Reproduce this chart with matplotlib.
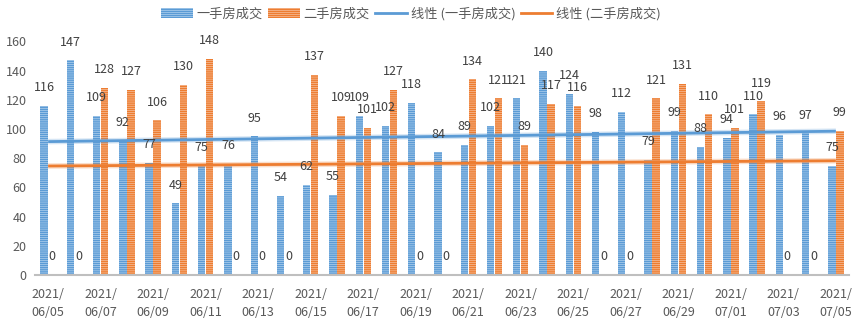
import numpy as np
import matplotlib
matplotlib.use("Agg")
import matplotlib.pyplot as plt
from matplotlib.patches import Patch
from matplotlib.lines import Line2D

plt.rcParams['font.family'] = ['Noto Sans CJK SC', 'DejaVu Sans']
plt.rcParams['hatch.linewidth'] = 1.0

dates = ["2021/06/%02d" % d for d in range(5, 31)] + ["2021/07/%02d" % d for d in range(1, 6)]
new_home = [116, 147, 109, 92, 77, 49, 75, 76, 95, 54,
            62, 55, 109, 102, 118, 84, 89, 102, 121, 140,
            124, 98, 112, 79, 99, 88, 94, 110, 96, 97, 75]
resale = [0, 0, 128, 127, 106, 130, 148, 0, 0, 0,
          137, 109, 101, 127, 0, 0, 134, 121, 89, 117,
          116, 0, 0, 121, 131, 110, 101, 119, 0, 0, 99]
names = ["一手房成交", "二手房成交"]

blue, blue_lt = "#5b9bd5", "#b4d2ee"
orange, orange_lt = "#ed7d31", "#f7c2a0"
txt = "#404040"
axis_txt = "#595959"

x = np.arange(len(dates))
w = 0.28
off = 0.152

fig = plt.figure(figsize=(8.59, 3.22), dpi=100)
ax = fig.add_axes([35 / 859, 47 / 322, 814 / 859, 233.5 / 322])

b1 = ax.bar(x - off, new_home, w, color=blue_lt, edgecolor=blue, linewidth=0, hatch="--------")
b2 = ax.bar(x + off, resale, w, color=orange_lt, edgecolor=orange, linewidth=0, hatch="--------")

for xi, v in zip(x - off, new_home):
    ax.annotate(str(v), (xi, v), xytext=(0, 8.5), textcoords="offset points",
                ha="center", va="bottom", fontsize=9, color=txt)
for xi, v in zip(x + off, resale):
    ax.annotate(str(v), (xi, v), xytext=(0, 8.5), textcoords="offset points",
                ha="center", va="bottom", fontsize=9, color=txt)

# linear trend lines
for vals, c in ((new_home, blue), (resale, orange)):
    k, b = np.polyfit(x, vals, 1)
    ax.plot(x, k * x + b, color=c, lw=4, alpha=0.25, solid_capstyle="butt")
    ax.plot(x, k * x + b, color=c, lw=2, solid_capstyle="butt")

ax.set_xlim(-0.5, len(dates) - 0.5)
ax.set_ylim(0, 160)
ax.set_yticks(range(0, 161, 20))
ax.set_xticks(x[::2])
ax.set_xticklabels([d[:5] + "\n" + d[5:] for d in dates[::2]], linespacing=1.5)
ax.tick_params(axis="both", length=0, labelsize=9, labelcolor=axis_txt)
ax.tick_params(axis="x", pad=9)
ax.tick_params(axis="y", pad=6)
for s in ("top", "right", "left"):
    ax.spines[s].set_visible(False)
ax.spines["bottom"].set_color("#bfbfbf")
ax.spines["bottom"].set_linewidth(1.5)

handles = [
    Patch(facecolor=blue_lt, edgecolor=blue, linewidth=0, hatch="--------"),
    Patch(facecolor=orange_lt, edgecolor=orange, linewidth=0, hatch="--------"),
    Line2D([], [], color=blue, lw=2),
    Line2D([], [], color=orange, lw=2),
]
labels = names + ["线性 (%s)" % n for n in names]
fig.legend(handles, labels, loc="center", bbox_to_anchor=(411 / 859, 1 - 14 / 322),
           ncol=4, frameon=False, fontsize=9.5, handlelength=2.4, handleheight=0.8,
           handletextpad=0.3, columnspacing=0.4, labelcolor=axis_txt)

fig.savefig("out.png", dpi=100)
